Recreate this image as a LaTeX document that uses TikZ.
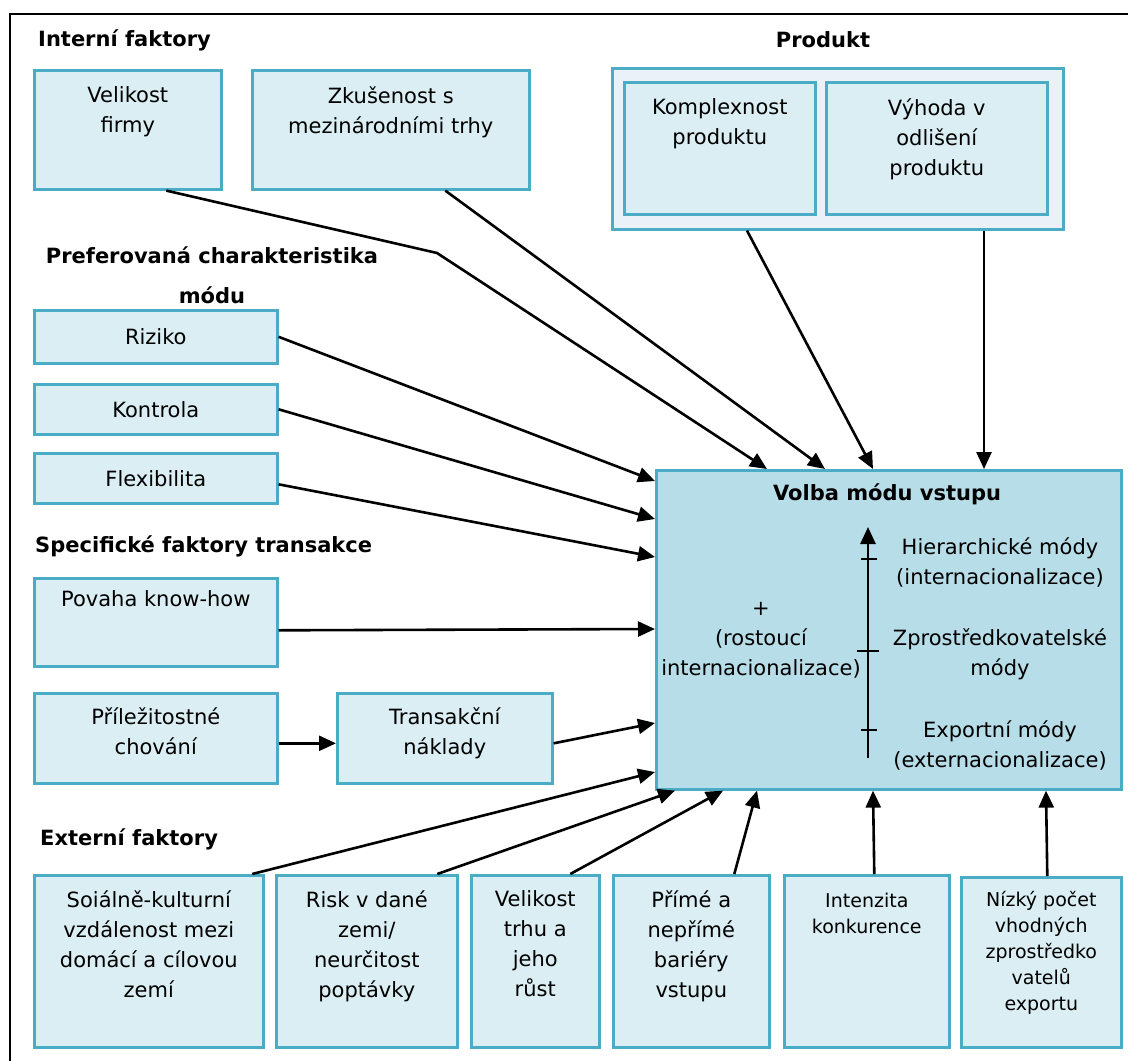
\documentclass[tikz,border=0pt]{standalone}
\usepackage{fontspec}
\setmainfont{DejaVu Sans}
\usetikzlibrary{arrows.meta}

\definecolor{hellblau}{HTML}{DAEEF3}
\definecolor{mittelblau}{HTML}{B7DDE8}
\definecolor{blassblau}{HTML}{EAF1F8}
\definecolor{randblau}{HTML}{4BACC6}

\begin{document}
\begin{tikzpicture}[
        x=1pt,
        y=-1pt,
        kasten/.style={draw=randblau, fill=hellblau, line width=2.6pt, inner sep=0pt,
                       anchor=north west, font=\fontsize{21}{30}\selectfont},
        schrift/.style={font=\fontsize{21}{30}\selectfont, align=center, inner sep=0pt, anchor=north},
        klein/.style={font=\fontsize{19}{26}\selectfont, align=center, inner sep=0pt, anchor=north},
        titel/.style={font=\fontsize{21}{30}\selectfont\bfseries, inner sep=0pt, anchor=base west},
        pfeil/.style={-{Triangle[length=17pt,width=15pt]}, line width=2.6pt}]

\useasboundingbox (0,0) rectangle (1128,1061);

%Rahmen
\draw[line width=2pt] (9.5,1061)--(9.5,14)--(1128,14);

%Interni faktory
\node[titel] (t-intern) at (38,46) {Interní faktory};
\node[kasten, minimum width=187, minimum height=119] (vf) at (33,69) {};
\node[schrift] (vf-t) at ([yshift=-17pt]vf.north) {Velikost\\firmy};
\node[kasten, minimum width=277, minimum height=119] (zk) at (251,69) {};
\node[schrift] (zk-t) at ([yshift=-17pt]zk.north) {Zkušenost s\\mezinárodními trhy};

%Produkt
\node[titel, anchor=base] (t-produkt) at (823,47) {Produkt};
\node[kasten, fill=blassblau, minimum width=451, minimum height=161] (pd) at (611,67) {};
\node[kasten, minimum width=191, minimum height=132] (kp) at (623,81) {};
\node[schrift] (kp-t) at ([yshift=-17pt]kp.north) {Komplexnost\\produktu};
\node[kasten, minimum width=221, minimum height=132] (vy) at (825,81) {};
\node[schrift] (vy-t) at ([yshift=-17pt]vy.north) {Výhoda v\\odlišení\\produktu};

%Preferovana charakteristika
\node[titel, anchor=north, align=center, font=\fontsize{21}{40}\selectfont\bfseries]
      (t-pref) at (212,246) {Preferovaná charakteristika\\módu};
\node[kasten, minimum width=243, minimum height=53] (ri) at (33,309) {Riziko};
\node[kasten, minimum width=243, minimum height=50] (ko) at (33,383) {Kontrola};
\node[kasten, minimum width=243, minimum height=50] (fl) at (33,452) {Flexibilita};

%Specificke faktory
\node[titel] (t-spez) at (35,552) {Specifické faktory transakce};
\node[kasten, minimum width=243, minimum height=88] (po) at (33,577) {};
\node[schrift] (po-t) at ([yshift=-13pt]po.north) {Povaha know-how};
\node[kasten, minimum width=243, minimum height=90] (pr) at (33,692) {};
\node[schrift] (pr-t) at ([yshift=-15pt]pr.north) {Příležitostné\\chování};
\node[kasten, minimum width=215, minimum height=90] (tr) at (336,692) {};
\node[schrift] (tr-t) at ([yshift=-15pt]tr.north) {Transakční\\náklady};

%Externi faktory
\node[titel] (t-extern) at (40,845) {Externí faktory};
\node[kasten, minimum width=229, minimum height=172] (so) at (33,874) {};
\node[schrift] (so-t) at ([yshift=-16pt]so.north) {Soiálně-kulturní\\vzdálenost mezi\\domácí a cílovou\\zemí};
\node[kasten, minimum width=181, minimum height=172] (rv) at (275,874) {};
\node[schrift] (rv-t) at ([yshift=-16pt]rv.north) {Risk v dané\\zemi/\\neurčitost\\poptávky};
\node[kasten, minimum width=128, minimum height=172] (vt) at (470,874) {};
\node[schrift] (vt-t) at ([yshift=-16pt]vt.north) {Velikost\\trhu a\\jeho\\růst};
\node[kasten, minimum width=156, minimum height=172] (pm) at (612,874) {};
\node[schrift] (pm-t) at ([yshift=-16pt]pm.north) {Přímé a\\nepřímé\\bariéry\\vstupu};
\node[kasten, minimum width=165, minimum height=172] (ik) at (783,874) {};
\node[klein] (ik-t) at ([yshift=-19pt]ik.north) {Intenzita\\konkurence};
\node[kasten, minimum width=160, minimum height=170] (nz) at (960,876) {};
\node[klein] (nz-t) at ([yshift=-15pt]nz.north) {Nízký počet\\vhodných\\zprostředko\\vatelů\\exportu};

%Volba modu
\node[kasten, fill=mittelblau, minimum width=465, minimum height=319] (haupt) at (655,469) {};
\node[titel, anchor=base] (haupt-t) at (887,500) {Volba módu vstupu};
\node[schrift] (plus-t) at (761,602) {+\\(rostoucí\\internacionalizace)};
\node[schrift] (hier-t) at (1000,537) {Hierarchické módy\\(internacionalizace)};
\node[schrift] (zpro-t) at (1000,628) {Zprostředkovatelské\\módy};
\node[schrift] (exp-t) at (1000,720) {Exportní módy\\(externacionalizace)};
%Achse
\draw[pfeil] (868,758)--(868,527);
\draw[line width=2.4pt] (861,559)--(877,559);
\draw[line width=2.4pt] (857,651)--(879,651);
\draw[line width=2.4pt] (861,730)--(877,730);

%Pfeile oben
\coordinate (knick) at (437,253);
\draw[pfeil] ([xshift=38.5pt]vf.south)--(knick)--([xshift=112pt]haupt.north west);
\draw[pfeil] ([xshift=54.5pt]zk.south)--([xshift=170pt]haupt.north west);
\draw[pfeil] ([xshift=136pt]pd.south west)--([xshift=218pt]haupt.north west);
\draw[pfeil] ([xshift=373pt]pd.south west)--([xshift=329pt]haupt.north west);
%Pfeile links
\draw[pfeil] (ri.east)--([yshift=-12pt]haupt.north west);
\draw[pfeil] (ko.east)--([yshift=-50pt]haupt.north west);
\draw[pfeil] ([yshift=-6pt]fl.east)--([yshift=-88pt]haupt.north west);
\draw[pfeil] ([yshift=-8pt]po.east)--([yshift=-160pt]haupt.north west);
\draw[pfeil] ([yshift=-5pt]pr.east)--([yshift=-5pt]tr.west);
\draw[pfeil] ([yshift=-5pt]tr.east)--([yshift=-254pt]haupt.north west);
\draw[pfeil] ([xshift=103.5pt]so.north)--([yshift=-303pt]haupt.north west);
%Pfeile unten
\draw[pfeil] ([xshift=70.5pt]rv.north)--([xshift=20pt]haupt.south west);
\draw[pfeil] ([xshift=35pt]vt.north)--([xshift=68pt]haupt.south west);
\draw[pfeil] ([xshift=43pt]pm.north)--([xshift=102pt]haupt.south west);
\draw[pfeil] ([xshift=7.5pt]ik.north)--([xshift=218pt]haupt.south west);
\draw[pfeil] ([xshift=6pt]nz.north)--([xshift=391pt]haupt.south west);

\end{tikzpicture}
\end{document}
